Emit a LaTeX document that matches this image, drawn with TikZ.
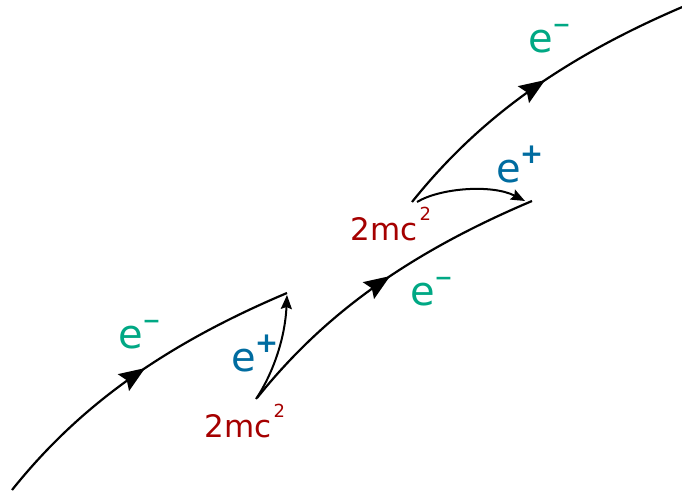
\documentclass[tikz,border=0pt]{standalone}
\usepackage{fontspec}
\setmainfont{DejaVu Sans}
\usetikzlibrary{arrows.meta,decorations.markings}
\definecolor{elgreen}{RGB}{0,168,132}
\definecolor{posblue}{RGB}{0,108,160}
\definecolor{enred}{RGB}{165,0,0}
\newcommand\elecm{{\fontsize{40}{40}\selectfont e}\kern-0.5pt{\fontsize{22}{22}\selectfont\bfseries\raisebox{20pt}{−}}}
\newcommand\elecp{{\fontsize{40}{40}\selectfont e}\kern-1pt{\fontsize{28}{28}\selectfont\bfseries\raisebox{19pt}{+}}}
\newcommand\energy{{\fontsize{31}{31}\selectfont 2mc}\kern2pt{\fontsize{18}{18}\selectfont\raisebox{20pt}{2}}}
\tikzset{
  electron/.style={line width=2.2pt,
    postaction={decorate,decoration={markings,
      mark=at position 0.53 with {\arrow{Stealth[length=26pt,width=20pt,inset=4pt]}}}}},
  positron/.style={line width=2pt,-{Stealth[length=14pt,width=11pt,inset=2pt]}},
  lbl/.style={inner sep=0pt,anchor=base west},
}
\begin{document}
\begin{tikzpicture}[x=1pt,y=-1pt]
\clip (0,0) rectangle (682,498);
% curve A
\coordinate (a0) at (12,490);
\coordinate (a1) at (287,293);
% curve B
\coordinate (b0) at (257,398);
\coordinate (b1) at (532,201);
% curve C
\coordinate (c0) at (412,202);
\coordinate (c1) at (687,5);
% positron ends
\coordinate (p0) at (256,399);
\coordinate (p1) at (287,295);
\coordinate (q0) at (417,202);
\coordinate (q1) at (525,201);

\draw[electron] (a0) .. controls (72,415) and (152,350) .. (a1);
\draw[electron] (b0) .. controls (317,323) and (397,258) .. (b1);
\draw[electron] (c0) .. controls (472,127) and (552,62) .. (c1);

\draw[positron] (p0) .. controls (272,375) and (285,340) .. (p1);
\draw[positron] (q0) .. controls (440,188) and (492,184) .. (q1);

\node[lbl,text=elgreen] (l1) at (118,348) {\elecm};
\node[lbl,text=posblue] (l2) at (231,371) {\elecp};
\node[lbl,text=enred] (l3) at (204.5,437) {\energy};
\node[lbl,text=elgreen] (l4) at (410,305) {\elecm};
\node[lbl,text=enred] (l5) at (350.5,240) {\energy};
\node[lbl,text=posblue] (l6) at (496,182) {\elecp};
\node[lbl,text=elgreen] (l7) at (528,52) {\elecm};
\end{tikzpicture}
\end{document}
